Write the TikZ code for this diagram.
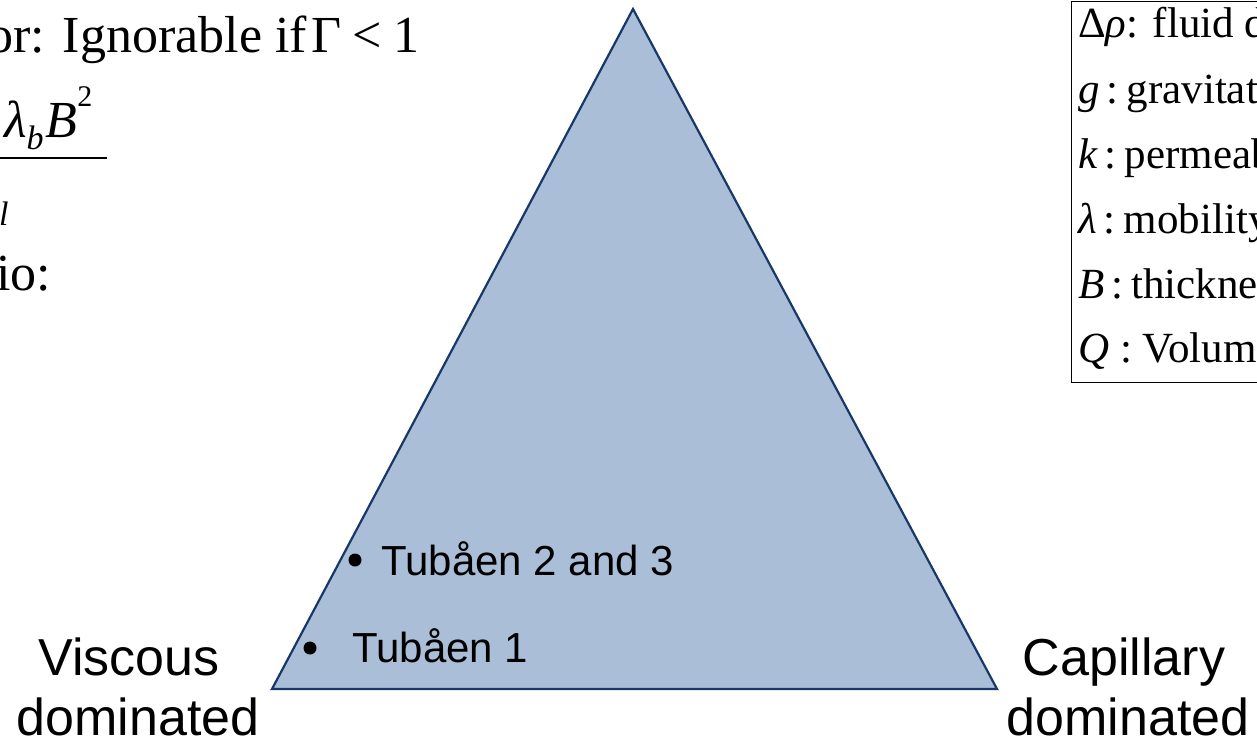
\documentclass[tikz,border=0pt]{standalone}
\usepackage{fontspec}
\setmainfont{Liberation Serif}
\newfontfamily\arial{Liberation Sans}
\definecolor{trifill}{RGB}{170,191,215}
\definecolor{tristroke}{RGB}{24,56,104}
\tikzset{
  corner/.style={font=\arial\fontsize{52}{60}\selectfont, align=center, inner sep=0pt},
  site/.style={font=\arial\fontsize{42}{48}\selectfont, inner sep=0pt, anchor=base west},
  dotmark/.style={circle, fill=black, inner sep=0pt, minimum size=13pt},
  eqtext/.style={font=\fontsize{52}{60}\selectfont, inner sep=0pt},
  legtext/.style={font=\fontsize{43}{48}\selectfont, inner sep=0pt, anchor=base west},
}
\begin{document}
\begin{tikzpicture}[x=1pt,y=-1pt]
\useasboundingbox (0,0) rectangle (1257,741);
\clip (0,0) rectangle (1257,741);
% triangle
\coordinate (L) at (272,689);
\coordinate (R) at (997,689);
\coordinate (T) at (633,9);
\draw[fill=trifill, draw=tristroke, line width=2.2pt, line join=miter] (L) -- (R) -- (T) -- cycle;
% sites
\node[dotmark] (d1) at (355,560) {};
\node[site] (s1) at (381,575) {Tubåen 2 and 3};
\node[dotmark] (d2) at (310,648) {};
\node[site] (s2) at (352,662) {Tubåen 1};
% corner labels
\node[corner, anchor=base] (v1) at (129,675) {Viscous};
\node[corner, anchor=base] (v2) at (138,735) {dominated};
\node[corner, anchor=base] (c1) at (1124,675) {Capillary};
\node[corner, anchor=base] (c2) at (1128,735) {dominated};
% top-left equation text
\node[eqtext, anchor=base west] (e1) at (-13,53) {or:\kern5pt\ Ignorable if\kern4ptΓ\kern11pt<\kern12pt1};
\node[eqtext, anchor=base west] (e2) at (4,138) {\textit{λ}\raisebox{-0.22em}{\fontsize{34}{34}\selectfont\textit{b}}\kern2pt\textit{B}\raisebox{0.6em}{\fontsize{30}{30}\selectfont 2}};
\draw[line width=2pt] (0,158) -- (107,158);
\node[eqtext, anchor=base west, font=\fontsize{34}{40}\selectfont] (e3) at (-1,225) {\textit{l}};
\node[eqtext, anchor=base west] (e4) at (-4,290) {io:};
% legend box
\draw[line width=1pt] (1071,2) rectangle (1300,382);
\node[legtext] (g1) at (1078,38) {Δ\textit{ρ}: fluid de};
\node[legtext] (g2) at (1078,103) {\textit{g}\kern7pt:\kern8pt gravitati};
\node[legtext] (g3) at (1078,168) {\textit{k}\kern7pt:\kern8pt permeabi};
\node[legtext] (g4) at (1078,233) {\textit{λ}\kern7pt:\kern8pt mobility};
\node[legtext] (g5) at (1078,298) {\textit{B}\kern7pt:\kern8pt thicknes};
\node[legtext] (g6) at (1078,362) {\textit{Q} : Volume};
\end{tikzpicture}
\end{document}
